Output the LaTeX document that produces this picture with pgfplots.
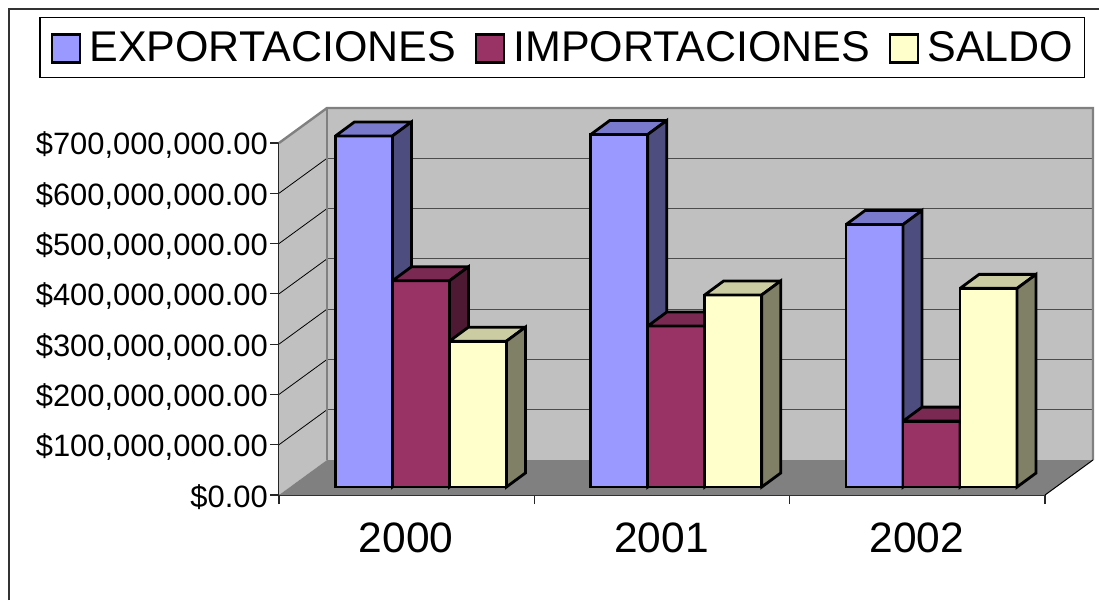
\documentclass[border=0pt]{standalone}
\usepackage{pgfplots}
\pgfplotsset{compat=1.18}
\usepackage{fontspec}
\setmainfont{Liberation Sans}
\definecolor{expF}{HTML}{9999FF}\definecolor{expT}{HTML}{7A7ACC}\definecolor{expS}{HTML}{4D4D80}
\definecolor{impF}{HTML}{993366}\definecolor{impT}{HTML}{7A2952}\definecolor{impS}{HTML}{4D1933}
\definecolor{salF}{HTML}{FFFFCC}\definecolor{salT}{HTML}{CCCCA3}\definecolor{salS}{HTML}{808066}
\definecolor{wall}{HTML}{C0C0C0}\definecolor{floorc}{HTML}{808080}
% wall depth: 48 px right, 35 px up; 1 category = 255.33 px; 100 (million) = 50.286 px
\def\wdx{0.18799}\def\wdy{69.6}
\newcommand{\gridlev}[1]{%
  \pgfmathsetmacro\ya{#1+\wdy}%
  \addplot[forget plot,draw=black,line width=0.8pt] coordinates {(0,#1) (\wdx,\ya)};
  \addplot[forget plot,draw=black!70,line width=1.2pt] coordinates {(\wdx,\ya) (3+\wdx,\ya)};
}
\newcommand{\tdbar}[6]{%
  \pgfmathsetmacro\xl{#1+(56.4+57*#2)/255.333}%
  \pgfmathsetmacro\xr{\xl+57/255.333}%
  \pgfmathsetmacro\xlb{\xl+19/255.333}%
  \pgfmathsetmacro\xrb{\xr+19/255.333}%
  \pgfmathsetmacro\yb{15.9}%
  \pgfmathsetmacro\yt{\yb+#3}%
  \pgfmathsetmacro\ybb{\yb+27.84}%
  \pgfmathsetmacro\ytb{\yt+27.84}%
  \addplot[forget plot,fill=#4,draw=black,line width=2.8pt,line join=miter,miter limit=3] coordinates {(\xl,\yb) (\xr,\yb) (\xr,\yt) (\xl,\yt)} --cycle;
  \addplot[forget plot,fill=#5,draw=black,line width=2.8pt,line join=miter,miter limit=3] coordinates {(\xl,\yt) (\xr,\yt) (\xrb,\ytb) (\xlb,\ytb)} --cycle;
  \addplot[forget plot,fill=#6,draw=black,line width=2.8pt,line join=miter,miter limit=3] coordinates {(\xr,\yb) (\xrb,\ybb) (\xrb,\ytb) (\xr,\yt)} --cycle;
}
\begin{document}
\begin{tikzpicture}
\useasboundingbox (0,0) rectangle (1099pt,600pt);
\draw[line width=2pt,color=black!80] (9pt,0pt) -- (9pt,591pt) -- (1099pt,591pt);
\begin{axis}[
  at={(279pt,105pt)},anchor=south west,
  scale only axis,width=766pt,height=352pt,
  xmin=0,xmax=3,ymin=0,ymax=700,
  clip=false,no markers,
  axis x line*=bottom,axis y line*=left,
  axis line style={-,line width=1.5pt,color=black!85},
  tick style={line width=1.1pt,color=black!85},
  tick align=outside,
  major tick length=9pt,minor tick length=9pt,
  ytick={0,100,200,300,400,500,600,700},
  yticklabels={{\$0.00},{\$100,000,000.00},{\$200,000,000.00},{\$300,000,000.00},{\$400,000,000.00},{\$500,000,000.00},{\$600,000,000.00},{\$700,000,000.00}},
  yticklabel style={font=\fontsize{30.9}{34}\selectfont,inner sep=0pt,xshift=-2pt,yshift=-2.5pt},
  xtick={0.5,1.5,2.5},
  xticklabels={2000,2001,2002},
  x tick style={draw=none},
  minor xtick={0,1,2,3},
  minor x tick style={draw=black!85,line width=1.1pt},
  xticklabel style={font=\fontsize{42.5}{46}\selectfont,inner sep=0pt,yshift=-19pt,xshift=-0.5pt},
  legend columns=3,
  legend cell align=left,
  legend image code/.code={\draw[#1,line width=2.4pt] (0pt,-15.5pt) rectangle (28pt,12.5pt);},
  legend style={at={(axis description cs:-0.3127,1.359)},anchor=north west,
    draw=black,line width=1.2pt,font=\fontsize{43}{47}\selectfont,
    inner xsep=11pt,inner ysep=14pt,
    nodes={inner sep=0pt},
    /tikz/every even column/.append style={column sep=19pt},
    /tikz/every odd column/.append style={column sep=8pt}},
]
% walls and floor
\addplot[forget plot,fill=wall,draw=none] coordinates {(0,0) (0.18799,69.6) (0.18799,769.6) (0,700)} --cycle;
\addplot[forget plot,fill=wall,draw=none] coordinates {(0.18799,69.6) (3.18799,69.6) (3.18799,769.6) (0.18799,769.6)} --cycle;
\addplot[forget plot,fill=floorc,draw=none] coordinates {(0,0) (3,0) (3.18799,69.6) (0.18799,69.6)} --cycle;
\gridlev{100}\gridlev{200}\gridlev{300}\gridlev{400}\gridlev{500}\gridlev{600}
\addplot[forget plot,draw=floorc,line width=2.4pt,line join=miter] coordinates {(0,700) (0.18799,769.6) (3.18799,769.6) (3.18799,69.6)};
\addplot[forget plot,draw=floorc,line width=2.4pt] coordinates {(0.18799,69.6) (0.18799,769.6)};
\addplot[forget plot,draw=black,line width=1pt] coordinates {(3,0) (3.18799,69.6)};
% bars: category, slot, value in millions of dollars
\tdbar{0}{0}{698}{expF}{expT}{expS}
\tdbar{0}{1}{410}{impF}{impT}{impS}
\tdbar{0}{2}{290}{salF}{salT}{salS}
\tdbar{1}{0}{701}{expF}{expT}{expS}
\tdbar{1}{1}{320}{impF}{impT}{impS}
\tdbar{1}{2}{382}{salF}{salT}{salS}
\tdbar{2}{0}{522}{expF}{expT}{expS}
\tdbar{2}{1}{131}{impF}{impT}{impS}
\tdbar{2}{2}{395}{salF}{salT}{salS}
\addlegendimage{fill=expF,draw=black}\addlegendentry{EXPORTACIONES}
\addlegendimage{fill=impF,draw=black}\addlegendentry{IMPORTACIONES}
\addlegendimage{fill=salF,draw=black}\addlegendentry{SALDO}
\end{axis}
\end{tikzpicture}
\end{document}
